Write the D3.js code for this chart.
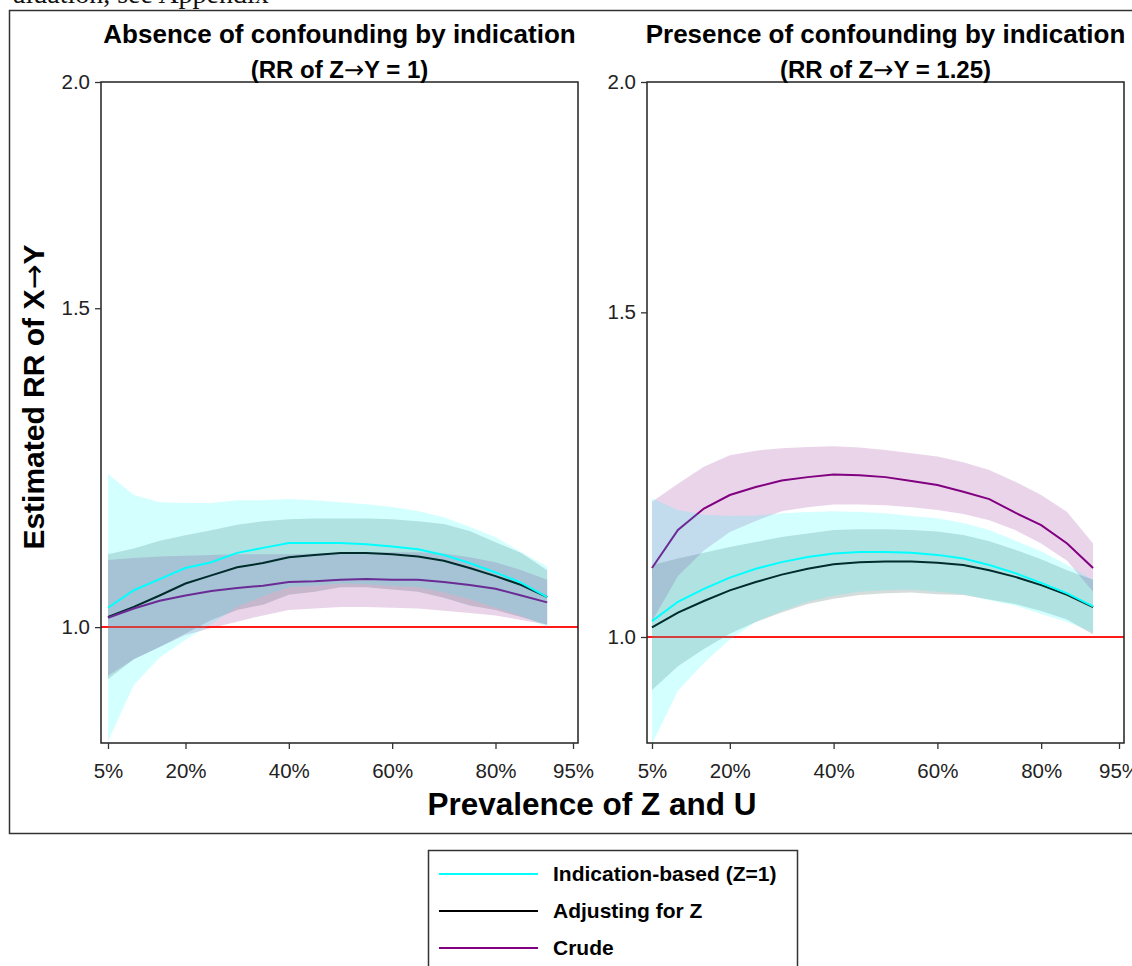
<!DOCTYPE html>
<meta charset="utf-8">
<script src="https://d3js.org/d3.v7.min.js"></script>
<style>
  body { margin: 0; background: #fff; }
  svg { display: block; }
</style>
<div id="chart"></div>
<script>

// prevalence of Z and U (%)
const prevalence = [5, 10, 15, 20, 25, 30, 35, 40, 45, 50, 55, 60, 65, 70, 75, 80, 85, 90];
const xTicks = [5, 20, 40, 60, 80, 95];
const yTicks = [1.0, 1.5, 2.0];

// left panel: RR of Z->Y = 1
const leftIndication   = [1.025, 1.048, 1.063, 1.078, 1.086, 1.099, 1.106, 1.113, 1.113, 1.113, 1.111, 1.108, 1.104, 1.096, 1.085, 1.072, 1.058, 1.039];
const leftIndicationLo = [0.865, 0.929, 0.962, 0.984, 1.004, 1.026, 1.040, 1.052, 1.054, 1.057, 1.056, 1.054, 1.052, 1.045, 1.036, 1.025, 1.015, 1.000];
const leftIndicationHi = [1.215, 1.183, 1.172, 1.171, 1.171, 1.175, 1.175, 1.177, 1.175, 1.172, 1.169, 1.165, 1.159, 1.150, 1.136, 1.121, 1.100, 1.080];
const leftAdjusted     = [1.013, 1.026, 1.041, 1.057, 1.068, 1.079, 1.085, 1.093, 1.096, 1.099, 1.099, 1.097, 1.094, 1.088, 1.078, 1.067, 1.055, 1.039];
const leftAdjustedLo   = [0.936, 0.960, 0.975, 0.992, 1.009, 1.022, 1.029, 1.042, 1.046, 1.052, 1.052, 1.049, 1.046, 1.038, 1.028, 1.022, 1.013, 1.003];
const leftAdjustedHi   = [1.097, 1.105, 1.116, 1.124, 1.131, 1.139, 1.144, 1.147, 1.148, 1.148, 1.148, 1.147, 1.144, 1.140, 1.130, 1.114, 1.099, 1.075];
const leftCrude        = [1.012, 1.024, 1.034, 1.041, 1.047, 1.051, 1.054, 1.059, 1.060, 1.062, 1.063, 1.062, 1.062, 1.059, 1.055, 1.050, 1.041, 1.032];
const leftCrudeLo      = [0.940, 0.960, 0.975, 0.990, 0.999, 1.007, 1.015, 1.022, 1.024, 1.026, 1.026, 1.025, 1.024, 1.021, 1.018, 1.015, 1.009, 1.003];
const leftCrudeHi      = [1.089, 1.092, 1.094, 1.095, 1.096, 1.097, 1.097, 1.097, 1.098, 1.099, 1.100, 1.100, 1.100, 1.098, 1.093, 1.086, 1.075, 1.062];

// right panel: RR of Z->Y = 1.25
const rightIndication   = [1.020, 1.045, 1.062, 1.077, 1.089, 1.098, 1.105, 1.110, 1.112, 1.112, 1.111, 1.108, 1.103, 1.094, 1.083, 1.070, 1.056, 1.039];
const rightIndicationLo = [0.875, 0.935, 0.968, 0.997, 1.019, 1.033, 1.045, 1.053, 1.058, 1.060, 1.061, 1.058, 1.055, 1.047, 1.040, 1.029, 1.019, 1.006];
const rightIndicationHi = [1.189, 1.172, 1.165, 1.163, 1.164, 1.167, 1.169, 1.170, 1.169, 1.167, 1.163, 1.160, 1.153, 1.143, 1.128, 1.113, 1.094, 1.074];
const rightAdjusted     = [1.012, 1.031, 1.046, 1.060, 1.071, 1.081, 1.089, 1.095, 1.098, 1.099, 1.099, 1.097, 1.094, 1.087, 1.078, 1.067, 1.054, 1.038];
const rightAdjustedLo   = [0.936, 0.964, 0.985, 1.004, 1.019, 1.031, 1.042, 1.049, 1.054, 1.056, 1.057, 1.055, 1.054, 1.048, 1.042, 1.033, 1.022, 1.003];
const rightAdjustedHi   = [1.094, 1.103, 1.111, 1.119, 1.126, 1.133, 1.138, 1.143, 1.144, 1.144, 1.143, 1.141, 1.136, 1.127, 1.115, 1.102, 1.087, 1.074];
const rightCrude        = [1.090, 1.143, 1.174, 1.194, 1.206, 1.216, 1.221, 1.225, 1.224, 1.221, 1.215, 1.209, 1.199, 1.188, 1.168, 1.150, 1.124, 1.090];
const rightCrudeLo      = [1.020, 1.079, 1.114, 1.140, 1.156, 1.170, 1.176, 1.180, 1.180, 1.179, 1.176, 1.172, 1.166, 1.157, 1.143, 1.124, 1.100, 1.058];
const rightCrudeHi      = [1.184, 1.211, 1.237, 1.255, 1.262, 1.266, 1.268, 1.269, 1.267, 1.263, 1.258, 1.253, 1.244, 1.232, 1.214, 1.194, 1.169, 1.124];

const font = "'Liberation Sans', Arial, sans-serif";
const arrowFont = "'DejaVu Sans', sans-serif";

const panels = [
    { title: "Absence of confounding by indication", sub: ["(RR of Z", "Y = 1)"],
      x0: 101, x1: 578, xr: [108, 573], yMin: 0.863,
      ind: [leftIndication, leftIndicationLo, leftIndicationHi],
      adj: [leftAdjusted, leftAdjustedLo, leftAdjustedHi],
      crude: [leftCrude, leftCrudeLo, leftCrudeHi] },
    { title: "Presence of confounding by indication", sub: ["(RR of Z", "Y = 1.25)"],
      x0: 647, x1: 1124, xr: [652, 1119], yMin: 0.876,
      ind: [rightIndication, rightIndicationLo, rightIndicationHi],
      adj: [rightAdjusted, rightAdjustedLo, rightAdjustedHi],
      crude: [rightCrude, rightCrudeLo, rightCrudeHi] }
];
const plotTop = 82, plotBottom = 743;

const svg = d3.select("#chart")
    .append("svg")
    .attr("width", 1132)
    .attr("height", 966);

// text with a thin arrow glyph in the middle
function arrowText(sel, before, after) {
    sel.append("tspan").text(before);
    sel.append("tspan").attr("font-family", arrowFont).attr("font-weight", "normal").text("\u2192");
    sel.append("tspan").text(after);
}

// clipped line of body text above the figure
svg.append("text")
    .attr("x", 13).attr("y", 3)
    .attr("font-family", "'Liberation Serif', 'Times New Roman', serif")
    .attr("font-size", 28)
    .attr("fill", "#111")
    .text("aluation, see Appendix");

// outer frame
svg.append("rect")
    .attr("x", 9.5).attr("y", 10.5)
    .attr("width", 1140).attr("height", 823)
    .attr("fill", "none").attr("stroke", "#333").attr("stroke-width", 1.5);

panels.forEach(function (p) {
    var x = d3.scaleLinear().domain([5, 95]).range(p.xr);
    var y = d3.scaleLog().domain([p.yMin, 2]).range([plotBottom, plotTop]);
    var g = svg.append("g");

    var band = function (s) {
        return d3.area()
            .x(function (d, i) { return x(prevalence[i]); })
            .y0(function (d, i) { return y(s[1][i]); })
            .y1(function (d, i) { return y(s[2][i]); })(prevalence);
    };
    var line = function (s) {
        return d3.line()
            .x(function (d, i) { return x(prevalence[i]); })
            .y(function (d, i) { return y(s[0][i]); })(prevalence);
    };

    // bands and lines, in drawing order
    g.append("path").attr("d", band(p.adj)).attr("fill", "#2f4f4f").attr("fill-opacity", 0.2);
    g.append("path").attr("d", band(p.crude)).attr("fill", "#800080").attr("fill-opacity", 0.17);
    g.append("path").attr("d", line(p.adj)).attr("fill", "none").attr("stroke", "#000").attr("stroke-width", 2);
    g.append("path").attr("d", line(p.crude)).attr("fill", "none").attr("stroke", "#800080").attr("stroke-width", 2);

    // reference line at RR = 1
    g.append("line")
        .attr("x1", p.x0).attr("x2", p.x1)
        .attr("y1", y(1)).attr("y2", y(1))
        .attr("stroke", "#ff1a1a").attr("stroke-width", 2);

    g.append("path").attr("d", band(p.ind)).attr("fill", "#00ffff").attr("fill-opacity", 0.17);
    g.append("path").attr("d", line(p.ind)).attr("fill", "none").attr("stroke", "#00ffff").attr("stroke-width", 2);

    // plot frame
    g.append("rect")
        .attr("x", p.x0).attr("y", plotTop)
        .attr("width", p.x1 - p.x0).attr("height", plotBottom - plotTop)
        .attr("fill", "none").attr("stroke", "#222").attr("stroke-width", 1.5);

    // axes
    var yAxis = g.append("g")
        .attr("transform", "translate(" + p.x0 + ",0)")
        .call(d3.axisLeft(y).tickValues(yTicks).tickFormat(d3.format(".1f")).tickSize(6).tickPadding(5));
    var xAxis = g.append("g")
        .attr("transform", "translate(0," + plotBottom + ")")
        .call(d3.axisBottom(x).tickValues(xTicks).tickFormat(function (d) { return d + "%"; }).tickSize(6).tickPadding(14));
    [xAxis, yAxis].forEach(function (a) {
        a.select(".domain").remove();
        a.attr("font-family", font).attr("font-size", 20.5);
        a.selectAll("line").attr("stroke", "#333").attr("stroke-width", 1.3);
        a.selectAll("text").attr("fill", "#222");
    });

    // titles
    var cx = (p.x0 + p.x1) / 2;
    g.append("text")
        .attr("x", cx).attr("y", 43)
        .attr("text-anchor", "middle")
        .attr("font-family", font).attr("font-weight", "bold").attr("font-size", 26)
        .text(p.title);
    g.append("text")
        .attr("x", cx).attr("y", 78)
        .attr("text-anchor", "middle")
        .attr("font-family", font).attr("font-weight", "bold").attr("font-size", 24)
        .call(arrowText, p.sub[0], p.sub[1]);
});

// axis titles
svg.append("text")
    .attr("x", 592).attr("y", 815)
    .attr("text-anchor", "middle")
    .attr("font-family", font).attr("font-weight", "bold").attr("font-size", 31.5)
    .text("Prevalence of Z and U");

svg.append("text")
    .attr("transform", "translate(44,397) rotate(-90)")
    .attr("text-anchor", "middle")
    .attr("font-family", font).attr("font-weight", "bold").attr("font-size", 30)
    .call(arrowText, "Estimated RR of X", "Y");

// legend
const legendLabels = ["Indication-based (Z=1)", "Adjusting for Z", "Crude"];
const legendColors = ["#00ffff", "#000000", "#800080"];

var legend = svg.append("g");
legend.append("rect")
    .attr("x", 428.5).attr("y", 850.5)
    .attr("width", 369).attr("height", 140)
    .attr("fill", "none").attr("stroke", "#333").attr("stroke-width", 1.5);

var rows = legend.selectAll(".row")
    .data(legendLabels)
    .enter().append("g")
    .attr("class", "row")
    .attr("transform", function (d, i) { return "translate(0," + (874 + i * 37) + ")"; });
rows.append("line")
    .attr("x1", 439).attr("x2", 538)
    .attr("stroke", function (d, i) { return legendColors[i]; })
    .attr("stroke-width", 2);
rows.append("text")
    .attr("x", 553).attr("dy", "0.35em")
    .attr("font-family", font).attr("font-weight", "bold").attr("font-size", 21)
    .text(function (d) { return d; });

</script>
